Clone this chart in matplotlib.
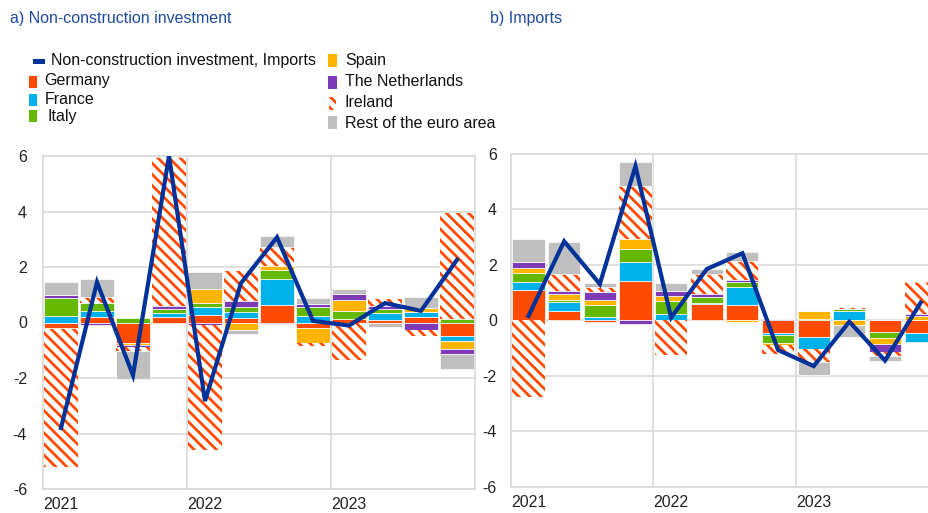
import matplotlib
matplotlib.use("Agg")
import matplotlib.pyplot as plt
from matplotlib.patches import Rectangle
import numpy as np

plt.rcParams['font.family'] = ['Liberation Sans', 'DejaVu Sans']
plt.rcParams['hatch.linewidth'] = 2.0

quarters = ["2021Q1", "2021Q2", "2021Q3", "2021Q4", "2022Q1", "2022Q2",
            "2022Q3", "2022Q4", "2023Q1", "2023Q2", "2023Q3", "2023Q4"]
year_labels = ["2021", "2022", "2023"]

# a) Non-construction investment
germany_a = [-0.20, 0.20, -0.75, 0.19, 0.28, 0.18, 0.62, -0.20, 0.12, 0.10, 0.19, -0.50]
france_a = [0.25, 0.22, 0.00, 0.14, 0.28, 0.20, 0.96, 0.22, 0.00, 0.24, 0.20, -0.18]
italy_a = [0.63, 0.28, 0.17, 0.16, 0.13, 0.19, 0.31, 0.34, 0.31, 0.14, 0.00, 0.13]
spain_a = [-0.04, 0.00, -0.06, 0.00, 0.50, -0.26, 0.14, -0.54, 0.38, 0.00, 0.12, -0.28]
neth_a = [0.10, -0.10, -0.06, 0.10, -0.08, 0.20, -0.07, 0.12, 0.23, 0.10, -0.27, -0.18]
ireland_a = [-4.97, 0.22, -0.14, 5.36, -4.53, 1.07, 0.70, -0.12, -1.35, 0.26, -0.20, 3.83]
rest_a = [0.47, 0.65, -1.03, 0.00, 0.64, -0.16, 0.38, 0.22, 0.17, -0.17, 0.41, -0.54]
total_a = [-3.80, 1.45, -1.90, 6.00, -2.83, 1.42, 3.07, 0.06, -0.11, 0.70, 0.42, 2.26]

# b) Imports
germany_b = [1.10, 0.35, -0.05, 1.42, 0.00, 0.59, 0.55, -0.47, -0.59, 0.00, -0.41, -0.44]
france_b = [0.29, 0.30, 0.12, 0.69, 0.22, 0.05, 0.66, -0.07, -0.45, 0.32, 0.00, -0.35]
italy_b = [0.31, 0.10, 0.43, 0.48, 0.48, 0.19, 0.18, -0.26, 0.04, 0.08, -0.23, 0.00]
spain_b = [0.20, 0.19, 0.17, 0.35, 0.18, 0.00, -0.05, -0.10, 0.31, -0.17, -0.20, 0.17]
neth_b = [0.19, 0.12, 0.30, -0.14, 0.18, 0.12, 0.06, 0.06, 0.00, 0.00, -0.29, 0.06]
ireland_b = [-2.75, 0.61, 0.18, 1.91, -1.24, 0.71, 0.69, -0.31, -0.48, 0.06, -0.16, 1.15]
rest_b = [0.83, 1.14, 0.13, 0.85, 0.28, 0.18, 0.32, 0.00, -0.46, -0.42, -0.16, 0.00]
total_b = [0.16, 2.85, 1.31, 5.56, 0.10, 1.85, 2.42, -1.07, -1.65, -0.05, -1.45, 0.64]

names = ["Germany", "France", "Italy", "Spain", "The Netherlands", "Ireland",
         "Rest of the euro area"]
colors = ["#FF4B00", "#00B1EA", "#65B800", "#FFB400", "#7E3BB8", "#FF4B00", "#BFBFBF"]
LINE_COLOR = "#003299"
GRID = "#D9D9D9"
TITLE_COLOR = "#1E4BA0"

W, H = 929, 513
fig = plt.figure(figsize=(W / 100, H / 100), dpi=100)


def fx(px):
    return px / W


def fy(py):
    return 1 - py / H


def draw_panel(ax, series, total, width, ypad):
    x = np.arange(len(quarters))
    pos = np.zeros(len(x))
    neg = np.zeros(len(x))
    for i, (vals, c) in enumerate(zip(series, colors)):
        v = np.array(vals)
        bottom = np.where(v >= 0, pos, neg)
        if names[i] == "Ireland":
            ax.bar(x, v, width, bottom=bottom, facecolor="white", edgecolor=c,
                   hatch="\\\\\\", linewidth=0, zorder=2)
        else:
            ax.bar(x, v, width, bottom=bottom, color=c, edgecolor="white",
                   linewidth=0.5, zorder=2)
        pos = pos + np.where(v >= 0, v, 0)
        neg = neg + np.where(v < 0, v, 0)
    ax.plot(x, total, color=LINE_COLOR, linewidth=3.0, zorder=3,
            solid_joinstyle="miter")
    ax.set_xlim(-0.5, 11.5)
    ax.set_ylim(-6, 6)
    ax.set_yticks([-6, -4, -2, 0, 2, 4, 6])
    ax.set_yticklabels(["-6", "-4", "-2", "0", "2", "4", "6"])
    ax.set_xticks([0, 4, 8])
    ax.set_xticklabels(year_labels)
    ax.set_xticks([3.5, 7.5], minor=True)
    ax.tick_params(which="both", length=0, labelsize=11.5, colors="#222222")
    ax.tick_params(axis="y", pad=ypad)
    ax.tick_params(axis="x", pad=6)
    ax.grid(axis="y", which="major", color=GRID, linewidth=1.2, zorder=0)
    ax.grid(axis="x", which="minor", color=GRID, linewidth=1.2, zorder=0)
    ax.set_axisbelow(True)
    for s in ax.spines.values():
        s.set_color(GRID)
        s.set_linewidth(1.2)


axA = fig.add_axes([fx(43), fy(489), fx(432), 333 / H])
draw_panel(axA, [germany_a, france_a, italy_a, spain_a, neth_a, ireland_a, rest_a],
           total_a, 0.92, 11.5)
axB = fig.add_axes([fx(510.7), fy(486.7), fx(427.8), 332.7 / H])
draw_panel(axB, [germany_b, france_b, italy_b, spain_b, neth_b, ireland_b, rest_b],
           total_b, 0.9, 10)

fig.text(fx(10), fy(19), "a) Non-construction investment", color=TITLE_COLOR,
         fontsize=11.5, va="center", ha="left")
fig.text(fx(490), fy(19), "b) Imports", color=TITLE_COLOR,
         fontsize=11.5, va="center", ha="left")

# legend
def legend_box(x0, y0, x1, y1, color, hatch=None):
    if hatch:
        r = Rectangle((fx(x0), fy(y1)), fx(x1 - x0), (y1 - y0) / H,
                      transform=fig.transFigure, facecolor="white",
                      edgecolor=color, hatch=hatch, linewidth=0)
    else:
        r = Rectangle((fx(x0), fy(y1)), fx(x1 - x0), (y1 - y0) / H,
                      transform=fig.transFigure, facecolor=color,
                      edgecolor="none")
    fig.patches.append(r)


def legend_text(x, y, s):
    fig.text(fx(x), fy(y), s, fontsize=11.5, va="center", ha="left",
             color="#111111")


legend_box(33, 59, 45, 63.5, LINE_COLOR)
legend_text(51, 61, "Non-construction investment, Imports")
legend_box(29, 75.5, 37, 87.5, colors[0])
legend_text(44, 81, names[0])
legend_box(29, 94, 37, 106, colors[1])
legend_text(45, 100, names[1])
legend_box(29, 110, 37, 122, colors[2])
legend_text(48, 117, names[2])
legend_box(328, 54.5, 337, 67, colors[3])
legend_text(345, 61, names[3])
legend_box(328, 76, 337, 88.5, colors[4])
legend_text(345, 82, names[4])
legend_box(329, 97, 336, 110, colors[5], hatch="\\\\\\")
legend_text(345, 103, names[5])
legend_box(328, 116.5, 337, 129, colors[6])
legend_text(345, 124, names[6])

fig.savefig("out.png", dpi=100)
